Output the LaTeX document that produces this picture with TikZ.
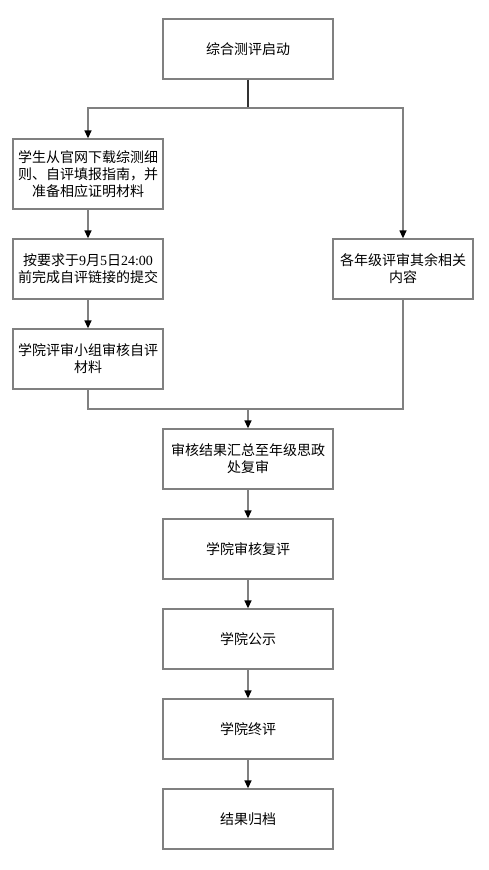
\documentclass[tikz,border=0pt]{standalone}
\usepackage{fontspec}
\setmainfont{Noto Sans CJK SC}
\newfontfamily\digitfont{Liberation Serif}
\usetikzlibrary{arrows.meta}
\definecolor{boxgray}{HTML}{808080}
\definecolor{tipdark}{HTML}{333333}
\tikzset{
  flowbox/.style={draw=boxgray, line width=1.3pt, fill=white, minimum width=#1, align=center,
    font=\fontsize{14pt}{17pt}\selectfont, inner sep=0pt},
  flowbox/.default={170pt},
  conn/.style={draw=boxgray, line width=1.3pt},
  arr/.style={conn, -{Triangle[length=8pt,width=7pt,color=black]}},
}
\begin{document}
\begin{tikzpicture}[x=1pt,y=-1pt]
\useasboundingbox (0,0) rectangle (488,870);
% boxes
\node[flowbox={170pt}, minimum height=60pt] (start) at (248,49) {综合测评启动};
\node[flowbox={150pt}, minimum height=70pt] (dl) at (88,174) {学生从官网下载综测细\\则、自评填报指南，并\\准备相应证明材料};
\node[flowbox={150pt}, minimum height=60pt] (sub) at (88,269) {按要求于{\digitfont 9}月{\digitfont 5}日{\digitfont 24:00}\\前完成自评链接的提交};
\node[flowbox={150pt}, minimum height=60pt] (rev) at (88,359) {学院评审小组审核自评\\材料};
\node[flowbox={140pt}, minimum height=60pt] (grade) at (403,269) {各年级评审其余相关\\内容};
\node[flowbox={170pt}, minimum height=60pt] (sum) at (248,459) {审核结果汇总至年级思政\\处复审};
\node[flowbox={170pt}, minimum height=60pt] (re) at (248,549) {学院审核复评};
\node[flowbox={170pt}, minimum height=60pt] (pub) at (248,639) {学院公示};
\node[flowbox={170pt}, minimum height=60pt] (fin) at (248,729) {学院终评};
\node[flowbox={170pt}, minimum height=60pt] (arch) at (248,819) {结果归档};
\coordinate (split) at (248,108);
\coordinate (merge) at (248,409);
% connectors
\draw[draw=tipdark, line width=1.3pt] (start.south) -- (split);
\draw[arr] (split) -| (dl.north);
\draw[arr] (split) -| (grade.north);
\draw[arr] (dl) -- (sub);
\draw[arr] (sub) -- (rev);
\draw[conn] (rev.south) |- (merge);
\draw[conn] (grade.south) |- (merge);
\draw[arr] (merge) -- (sum.north);
\draw[arr] (sum) -- (re);
\draw[arr] (re) -- (pub);
\draw[arr] (pub) -- (fin);
\draw[arr] (fin) -- (arch);
\end{tikzpicture}
\end{document}
